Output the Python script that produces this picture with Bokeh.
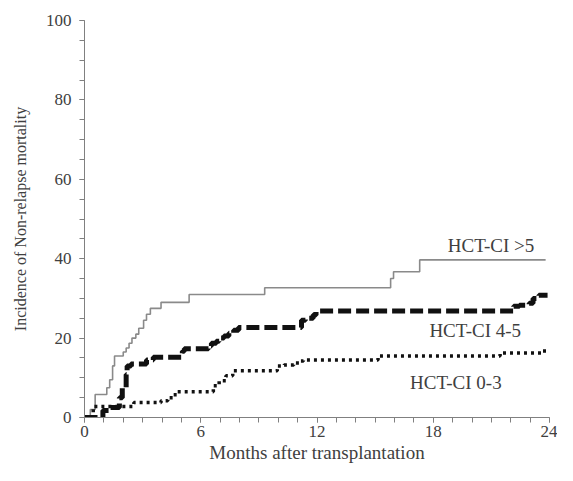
from bokeh.plotting import figure
from bokeh.models import FixedTicker, Range1d, ColumnDataSource
from bokeh.core.properties import value
from bokeh.embed import file_html
from bokeh.resources import INLINE

# Months after transplantation / cumulative incidence (%)
t_gt5 = [0, 0.3, 0.55, 1.15, 1.3, 1.45, 1.55, 2.0, 2.15, 2.3, 2.45, 2.65, 2.8, 3.05, 3.2, 3.4, 3.95, 5.4, 9.3, 15.8, 15.95, 17.3, 23.8]
y_gt5 = [0, 2, 5.8, 7.5, 9.5, 13, 15.5, 16.5, 17.5, 18.7, 20, 21, 22.5, 24.5, 26, 27.5, 29, 31, 32.7, 35, 36.7, 39.7, 39.7]

t_45 = [0, 0.95, 1.3, 1.8, 1.95, 2.15, 2.2, 2.4, 3.2, 3.55, 5.05, 5.15, 6.4, 6.55, 6.8, 6.95, 7.2, 7.45, 7.7, 7.95, 11.2, 11.4, 11.8, 11.95, 22.15, 22.45, 22.95, 23.15, 23.45, 23.9]
y_45 = [0, 1.75, 2.5, 5, 7.5, 10.8, 13, 13.5, 14.5, 15.2, 16.7, 17.3, 18, 18.7, 19.2, 20, 20.5, 21.2, 22, 22.7, 24.5, 25, 25.8, 26.8, 28, 28.3, 28.8, 30, 30.8, 30.8]

t_03 = [0, 0.45, 2.55, 3.95, 4.3, 4.55, 4.8, 6.65, 6.95, 7.3, 7.65, 9.95, 10.3, 10.8, 11.15, 11.3, 15.15, 21.45, 23.65, 23.95]
y_03 = [0, 2.8, 3.75, 4.25, 5, 5.75, 6.5, 8, 9.25, 10.5, 11.75, 13, 13.25, 13.75, 14.25, 14.5, 15.5, 16.25, 16.75, 16.75]

series_labels = ["HCT-CI >5", "HCT-CI 4-5", "HCT-CI 0-3"]
x_ticks = [0, 6, 12, 18, 24]
y_ticks = [0, 20, 40, 60, 80, 100]

FONT = "Liberation Serif"
TXT = "#404040"
AX = "#808080"

p = figure(width=557, height=465, output_backend="svg", toolbar_location=None,
           x_range=Range1d(0, 24), y_range=Range1d(0, 100),
           min_border_left=84, min_border_right=8, min_border_top=20, min_border_bottom=46)
p.outline_line_color = None
p.xgrid.visible = False
p.ygrid.visible = False
p.background_fill_color = "white"

p.step(t_gt5, y_gt5, mode="after", line_color="#8a8a8a", line_width=1.6)
p.step(t_45, y_45, mode="after", line_color="#111111", line_width=5, line_dash="13 5")
p.step(t_03, y_03, mode="after", line_color="#111111", line_width=3.5, line_dash="3 4")

lab = ColumnDataSource(dict(x=[18.75, 17.8, 16.8], y=[43.3, 21.8, 8.8], text=series_labels))
p.text(x="x", y="y", text="text", source=lab, text_font=value(FONT), text_font_size="19px",
       text_color=TXT, text_align="left", text_baseline="middle")

p.xaxis.ticker = FixedTicker(ticks=x_ticks, minor_ticks=list(range(0, 25)))
p.yaxis.ticker = FixedTicker(ticks=y_ticks, minor_ticks=list(range(0, 101, 5)))
for ax in (p.xaxis[0], p.yaxis[0]):
    ax.axis_line_color = AX
    ax.major_tick_line_color = AX
    ax.minor_tick_line_color = AX
    ax.major_tick_in = 0
    ax.minor_tick_in = 0
    ax.major_tick_out = 5
    ax.minor_tick_out = 5
    ax.major_label_text_font = FONT
    ax.major_label_text_font_size = "17px"
    ax.major_label_text_color = TXT
    ax.axis_label_text_font = FONT
    ax.axis_label_text_color = TXT
    ax.axis_label_text_font_style = "normal"

p.xaxis.axis_label = "Months after transplantation"
p.yaxis.axis_label = "Incidence of Non-relapse mortality"
p.xaxis.axis_label_text_font_size = "19px"
p.yaxis.axis_label_text_font_size = "16px"
p.xaxis.major_label_standoff = 3
p.xaxis.axis_label_standoff = 2
p.yaxis.major_label_standoff = 8
p.yaxis.axis_label_standoff = 14

open("out.html", "w").write(file_html(p, INLINE))
